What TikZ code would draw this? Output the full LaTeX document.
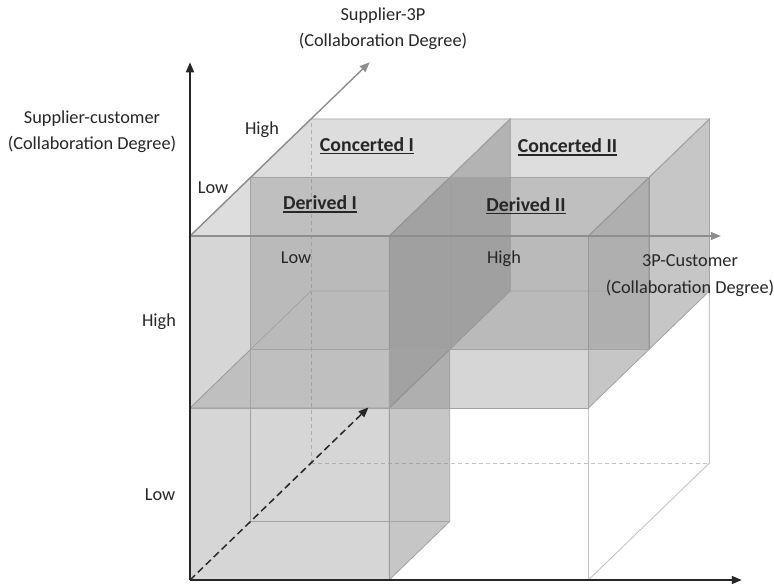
\documentclass[tikz,border=0pt]{standalone}
\usepackage{fontspec}
\setmainfont{Carlito}
\usetikzlibrary{arrows.meta}

\definecolor{ink}{HTML}{262626}
\definecolor{edgegray}{HTML}{A3A3A3}
\definecolor{wiregray}{HTML}{C4C4C4}
\definecolor{axisgray}{HTML}{8E8E8E}
\definecolor{glass}{HTML}{808080}

% bold label with a heavy underline
\newcommand\ulabel[1]{\setbox0=\hbox{#1}\rlap{\rule[-2.8pt]{\wd0}{1.5pt}}\box0}
% one translucent unit cell: front, top and right faces
\newcommand\glasscell[3]{%
  \path[frontface] (#1,#2,#3) -- ++(1,0,0) -- ++(0,1,0) -- ++(-1,0,0) -- cycle;
  \path[topface] (#1,#2,#3) ++(0,1,0) -- ++(1,0,0) -- ++(0,0,1) -- ++(-1,0,0) -- cycle;
  \path[sideface] (#1,#2,#3) ++(1,0,0) -- ++(0,1,0) -- ++(0,0,1) -- ++(0,-1,0) -- cycle;
}

\begin{document}
\begin{tikzpicture}[x=1pt,y=-1pt,
  txt/.style={font=\fontsize{18.3}{22}\selectfont, text=ink, inner sep=0pt, anchor=base},
  celltxt/.style={font=\fontsize{19.8}{24}\selectfont\bfseries, text=ink, inner sep=0pt, anchor=base},
  frontface/.style={fill=glass, fill opacity=0.32, draw=edgegray, line width=0.8pt},
  topface/.style={fill=glass, fill opacity=0.27, draw=edgegray, line width=0.8pt},
  sideface/.style={fill=glass, fill opacity=0.45, draw=edgegray, line width=0.8pt},
  edgeline/.style={draw=edgegray, line width=0.8pt},
  wireline/.style={draw=wiregray, line width=0.9pt},
  hiddenline/.style={draw=wiregray, line width=0.8pt, dash pattern=on 4pt off 3pt},
  mainaxis/.style={draw=ink, line width=1.6pt, -{Triangle[length=10pt,width=8pt]}},
  grayaxis/.style={draw=axisgray, line width=1.4pt, -{Triangle[length=10pt,width=8pt]}},
  deptharrow/.style={draw=ink, line width=1.5pt, dash pattern=on 7pt off 4pt, -{Triangle[length=10pt,width=8pt]}},
]
\useasboundingbox (0,0) rectangle (774,588);

% oblique 3D frame: x = 3P-customer, y = supplier-customer, z = supplier-3P
\begin{scope}[shift={(190,580)}, x={(199.2pt,0pt)}, y={(0pt,172pt)}, z={(60.5pt,58.5pt)}]
  \coordinate (O) at (0,0,0);
  \coordinate (Ytip) at (0,3.01,0);
  \coordinate (Xtip) at (2.77,0,0);
  \coordinate (Mid) at (0,2,0);
  \coordinate (Midtip) at (2.665,2,0);
  \coordinate (Ztip) at (0,2,2.97);
  \coordinate (Dtip) at (0,0,2.95);
  \coordinate (BackLow) at (0,0,2);
  \coordinate (BackTop) at (0,2,2);
  \coordinate (BackRight) at (2,0,2);
  \coordinate (BackRightMid) at (2,1,2);
  \coordinate (FrontRight) at (2,0,0);
  \coordinate (FrontRightMid) at (2,1,0);

  % outline of the whole cube, hidden edges dashed
  \draw[hiddenline] (BackLow) -- (BackTop);
  \draw[hiddenline] (BackLow) -- (BackRight);
  \draw[wireline] (FrontRight) -- (FrontRightMid);
  \draw[wireline] (FrontRight) -- (BackRight) -- (BackRightMid);

  % shaded cells
  \glasscell{0}{0}{0}
  \glasscell{0}{1}{0}
  \glasscell{1}{1}{0}
  \glasscell{0}{1}{1}
  \glasscell{1}{1}{1}

  % edges seen through the glass
  \draw[edgeline] (0,1,1) -- (0,1,2) -- (2,1,2);
  \draw[edgeline] (0,1,1) -- (0,0,1) -- (1,0,1);

  % axes
  \draw[grayaxis] (Mid) -- (Midtip);
  \draw[grayaxis] (Mid) -- (Ztip);
  \draw[deptharrow] (O) -- (Dtip);
  \draw[mainaxis] (O) -- (Ytip);
  \draw[mainaxis] (O) -- (Xtip);
\end{scope}

% axis titles
\node[txt] (t3p) at (383,21) {Supplier-3P};
\node[txt] (t3pb) at (383,47) {(Collaboration Degree)};
\node[txt] (tsc) at (92,124) {Supplier-customer};
\node[txt] (tscb) at (92,150) {(Collaboration Degree)};
\node[txt] (tpc) at (690,266) {3P-Customer};
\node[txt] (tpcb) at (690,293) {(Collaboration Degree)};

% axis levels
\node[txt] (zhigh) at (262,135) {High};
\node[txt] (zlow) at (213,194) {Low};
\node[txt] (xlow) at (296,263) {Low};
\node[txt] (xhigh) at (504,264) {High};
\node[txt] (yhigh) at (159,326) {High};
\node[txt] (ylow) at (160,500) {Low};

% cell names
\node[celltxt] (c1) at (367,151.5) {\ulabel{Concerted I}};
\node[celltxt] (c2) at (567.5,153) {\ulabel{Concerted II}};
\node[celltxt] (d1) at (320,210) {\ulabel{Derived I}};
\node[celltxt] (d2) at (526,211.5) {\ulabel{Derived II}};
\end{tikzpicture}
\end{document}
